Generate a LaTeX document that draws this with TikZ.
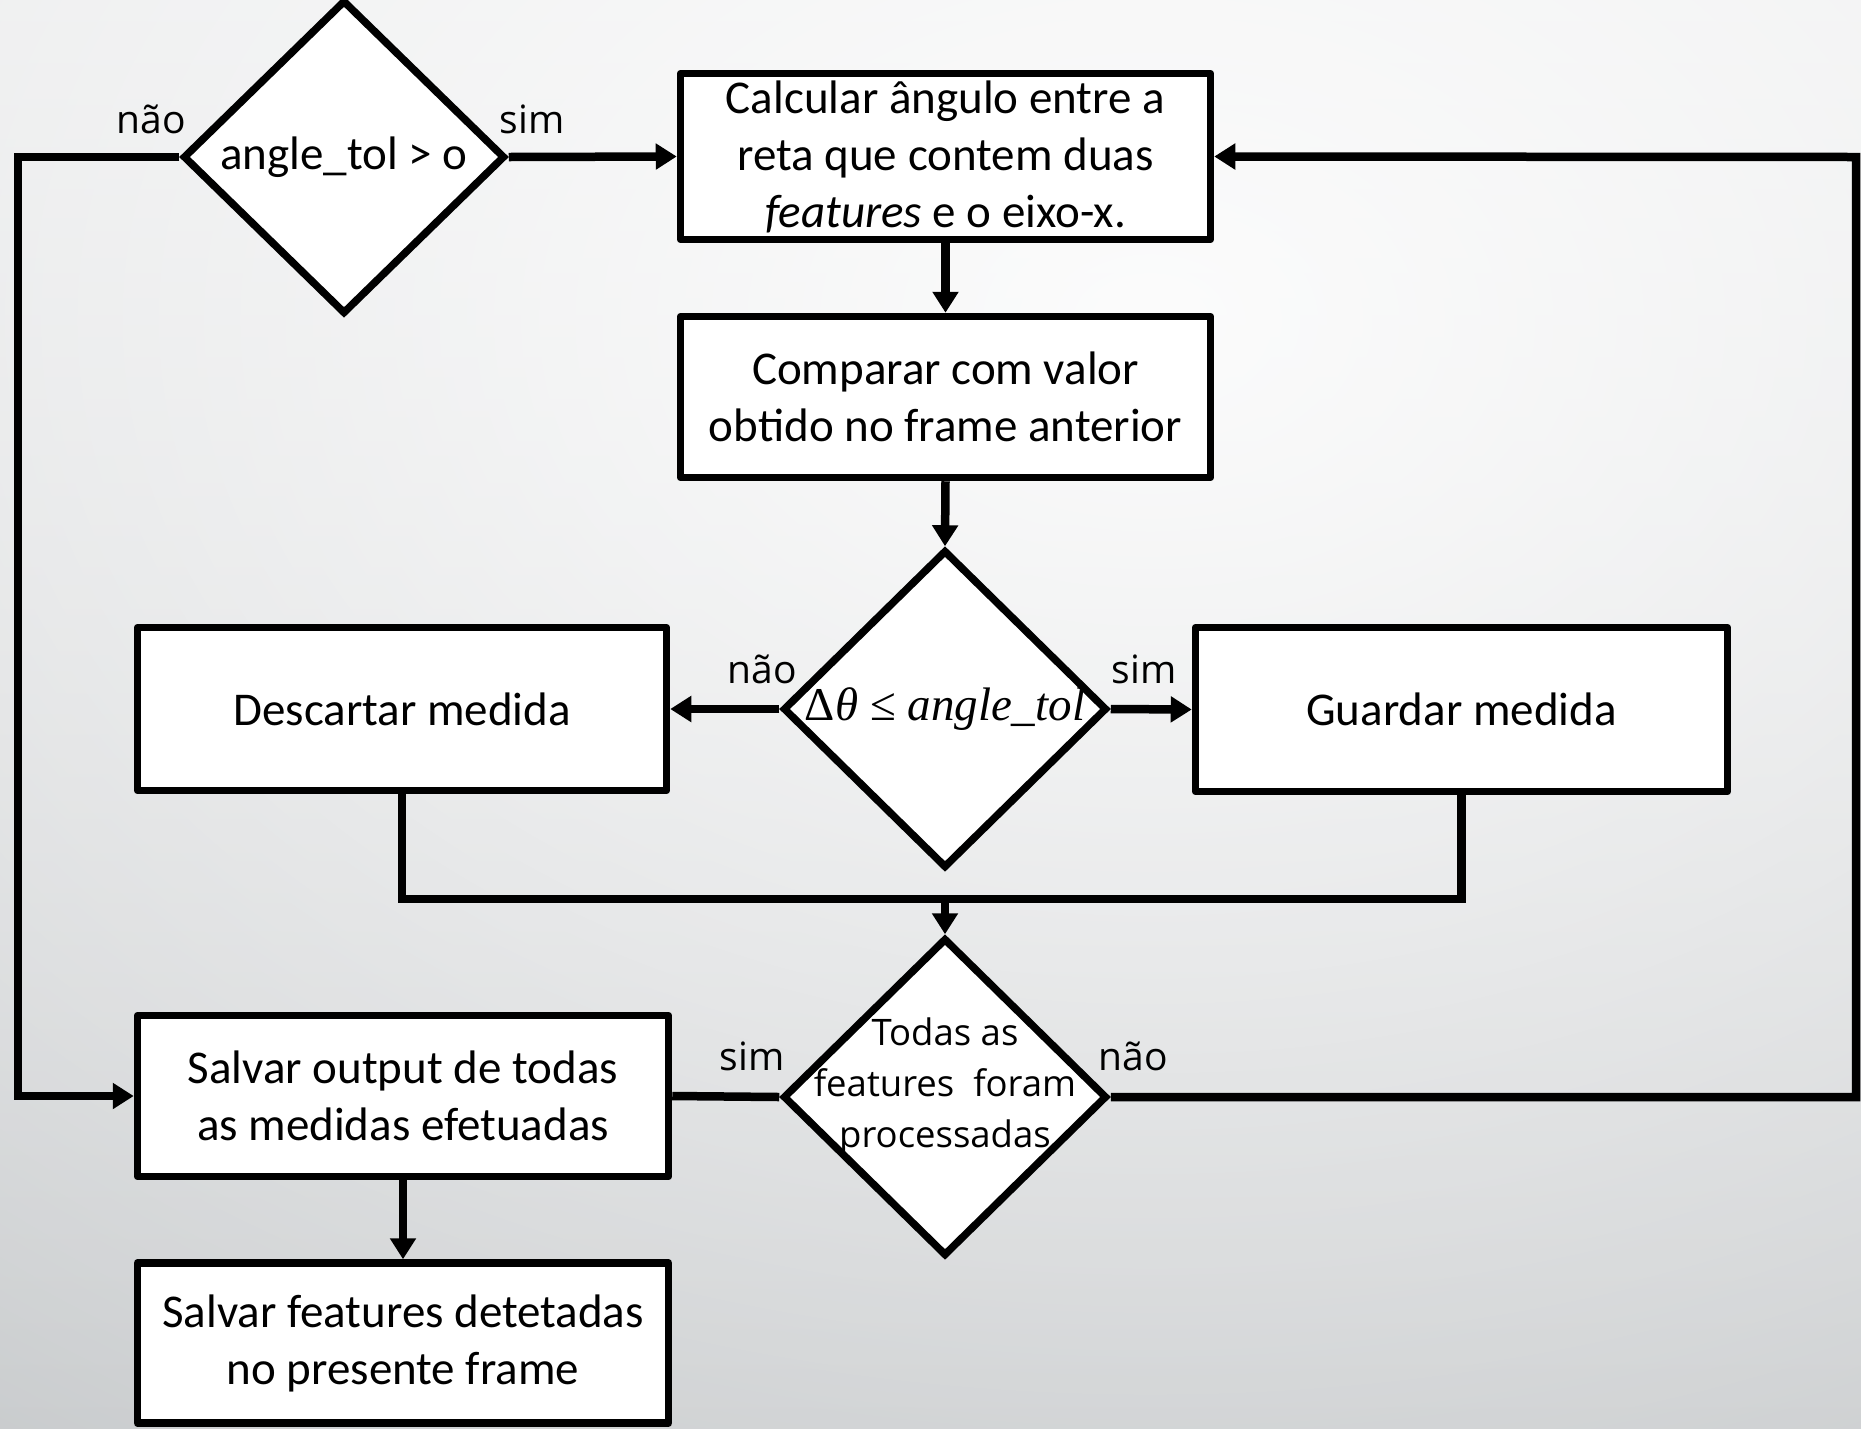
\documentclass[tikz,border=0pt]{standalone}
\usepackage{fontspec}
\setmainfont{Carlito}
\newfontfamily\lab{Open Sans}
\newfontfamily\mth{Liberation Serif}
\usetikzlibrary{shapes.geometric,arrows.meta,fadings,calc}
\tikzfading[name=myglow, inner color=transparent!0, outer color=transparent!100]
\definecolor{bgtop}{HTML}{E6E7E8}
\definecolor{bgbot}{HTML}{C2C5C7}
\begin{document}
\begin{tikzpicture}[x=1pt,y=-1pt,
  box/.style={draw, line width=7.5pt, line join=round, fill=white, align=center, inner sep=0pt, font=\fontsize{47}{57}\selectfont},
  dec/.style={diamond, draw, line width=7.5pt, fill=white, inner sep=0pt, minimum width=324pt, minimum height=318pt},
  conn/.style={line width=8.5pt},
  arr/.style={conn, -{Triangle[length=21pt,width=25pt]}},
  yn/.style={font=\lab\fontsize{39}{46}\selectfont, anchor=base},
]
\useasboundingbox (0,0) rectangle (1861,1428);
\begin{scope}
  \clip (0,0) rectangle (1861,1428);
  \shade[top color=bgtop, bottom color=bgbot] (0,0) rectangle (1861,1428);
  \fill[white, opacity=0.9, path fading=myglow] (1150,320) ellipse [x radius=2300pt, y radius=1600pt];
\end{scope}

% nodes
\node[dec, minimum width=322pt, minimum height=314pt,
      label={[font=\fontsize{47}{57}\selectfont]center:angle\_tol > o}] (d1) at (344,157) {};
\node[box, minimum width=530pt, minimum height=166pt] (b1) at (945.5,156.5)
  {Calcular ângulo entre a\\reta que contem duas\\{\itshape features} e o eixo-x.};
\node[box, minimum width=530pt, minimum height=161pt] (b2) at (945.5,397)
  {Comparar com valor\\obtido no frame anterior};
\node[dec, label={[font=\mth\fontsize{47}{54}\selectfont]center:Δ\textit{θ} ≤ \textit{angle\_tol}}] (d2) at (945,709) {};
\node[box, minimum width=529pt, minimum height=163pt] (b3) at (402,709) {Descartar medida};
\node[box, minimum width=532pt, minimum height=164pt] (b4) at (1461.5,709.5) {Guardar medida};
\node[dec, label={[font=\lab\fontsize{36.5}{51}\selectfont, align=center, yshift=10pt]center:{Todas as\\features~ foram\\processadas}}] (d3) at (945,1097) {};
\node[box, minimum width=531pt, minimum height=161pt] (b5) at (403,1096)
  {Salvar output de todas\\as medidas efetuadas};
\node[box, minimum width=531pt, minimum height=160pt] (b6) at (403,1343)
  {Salvar features detetadas\\no presente frame};

\coordinate (m) at (945,899);
\coordinate (lt) at (18,157);
\coordinate (rt) at (1856,157);

% connectors
\draw[arr] (d1.east) -- (b1.west);
\draw[arr] (d1.west) -- (lt) |- (b5.west);
\draw[arr] (b1.south) -- (b2.north);
\draw[arr] (b2.south) -- (d2.north);
\draw[arr] (d2.west) -- (b3.east);
\draw[arr] (d2.east) -- (b4.west);
\draw[conn] (b3.south) |- (m) -| (b4.south);
\draw[arr] (m) -- (d3.north);
\draw[conn] (d3.west) -- (b5.east);
\draw[arr] (d3.east) -| (rt) -- (b1.east);
\draw[arr] (b5.south) -- (b6.north);

% labels
\node[yn] (l1) at (151,133) {não};
\node[yn] (l2) at (532,133) {sim};
\node[yn] (l3) at (762,683) {não};
\node[yn] (l4) at (1144,683) {sim};
\node[yn] (l5) at (752,1070) {sim};
\node[yn] (l6) at (1133,1070) {não};
\end{tikzpicture}
\end{document}
